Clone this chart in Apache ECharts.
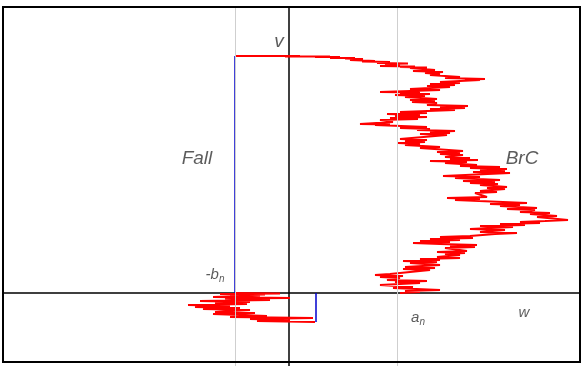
<!DOCTYPE html>
<html>
<head>
<meta charset="utf-8">
<script src="https://cdn.jsdelivr.net/npm/echarts@6/dist/echarts.min.js"></script>
<style>
  html, body { margin: 0; padding: 0; background: #fff; }
  #chart { width: 584px; height: 366px; }
</style>
</head>
<body>
<div id="chart"></div>
<script>
// Brownian path, time runs downwards: [w, t]
var brcPath = [
    [-54, 237], [11, 237], [-4, 236.5], [41, 236.5], [26, 236], [51, 236], [41, 235], [66, 235],
    [56, 234.5], [74, 234], [61, 233], [86, 232], [73, 231.5], [101, 231], [88, 230], [119, 229.5],
    [96, 229], [111, 228], [91, 227], [126, 226.5], [111, 226], [138, 225.5], [121, 225], [146, 223],
    [124, 222], [154, 221], [136, 220], [151, 219], [141, 218], [171, 216], [156, 215], [196, 214],
    [176, 213.5], [191, 213], [151, 211], [171, 210], [141, 209], [166, 208], [138, 207], [161, 206],
    [121, 204], [151, 203], [91, 201], [131, 200.5], [111, 199.5], [141, 199], [106, 198], [136, 197],
    [116, 196], [148, 194], [121, 193], [146, 192], [123, 191], [148, 190], [138, 188], [179, 187],
    [151, 186], [176, 185], [141, 184], [166, 183], [111, 181], [138, 180], [98, 179], [131, 178],
    [106, 177], [138, 176], [101, 175], [129, 174], [91, 173], [104, 171], [71, 169], [101, 168.5],
    [86, 168], [138, 166], [111, 165], [141, 164], [128, 163], [166, 162], [141, 161], [161, 160],
    [131, 159], [158, 158], [111, 154], [138, 153], [116, 152], [136, 151], [109, 150], [131, 149],
    [116, 148], [151, 146], [131, 145], [174, 142], [148, 141], [171, 140], [151, 139], [174, 138],
    [156, 136], [181, 135], [161, 134], [189, 133], [141, 132], [178, 131], [156, 130], [188, 128],
    [171, 127], [211, 126], [181, 125], [218, 124], [191, 123], [216, 122], [184, 121], [221, 120],
    [154, 117], [191, 116], [166, 115], [211, 113], [174, 112], [206, 111], [181, 110], [209, 109],
    [191, 108], [218, 106], [198, 105], [216, 104], [191, 102], [208, 101], [186, 100], [198, 96],
    [158, 95], [191, 94], [166, 93], [238, 90], [201, 89], [231, 88], [211, 87], [248, 85],
    [218, 84], [246, 83], [231, 81], [261, 80], [241, 79], [268, 77], [248, 76], [279, 73],
    [256, 72], [231, 71], [251, 70], [211, 69], [236, 68], [191, 67], [224, 66], [181, 64],
    [216, 63], [191, 61], [228, 60], [206, 59], [181, 57], [151, 56], [184, 55], [141, 54],
    [171, 53], [131, 52], [161, 51], [124, 50], [151, 49], [188, 48], [161, 47], [186, 46],
    [156, 45], [178, 42], [148, 41], [176, 40], [156, 39], [171, 38], [148, 36], [171, 35],
    [131, 34], [151, 33], [114, 32], [148, 31], [121, 30], [151, 28], [116, 26], [146, 25],
    [114, 24], [141, 23], [121, 21], [101, 19], [86, 18], [114, 17], [91, 16], [111, 15],
    [98, 13], [138, 12], [106, 11], [131, 10], [91, 8], [124, 6], [104, 5], [151, 3],
    [116, 2], [131, 1], [111, 0]
];

// after the fall: path below the w axis
var fallPath = [
    [-54, 0], [-9, -0.5], [-69, -1], [-24, -1.5], [-59, -2], [-29, -2.5], [-76, -4], [1, -5],
    [-64, -5.5], [-19, -7], [-89, -8], [-39, -9], [-74, -10], [-42, -11], [-101, -12], [-59, -13],
    [-94, -14], [-49, -15], [-86, -16], [-39, -17], [-74, -19], [-34, -20], [-76, -21], [-22, -23],
    [-59, -24], [24, -25], [-39, -26], [1, -27], [-32, -28], [26, -29]
];

var fallLine = [[-54, 237], [-54, 0]];
var jumpLine = [[27, 0], [27, -29]];

var bn = -54;
var an = 108;
var vLevel = 237;

var labels = [
    { name: '{i|v}', value: [-10, 251] },
    { name: '{i|Fall}', value: [-92, 134] },
    { name: '{i|BrC}', value: [233, 134] },
    { name: '{s|-b}{sub|n}', value: [-74, 18] },
    { name: '{s|a}{sub|n}', value: [129, -25] },
    { name: '{s|w}', value: [235, -20] }
];

var chart = echarts.init(document.getElementById('chart'));

var txt = { fontFamily: 'Liberation Sans, Arial, sans-serif', fontStyle: 'italic', color: '#333' };

chart.setOption({
    animation: false,
    grid: { left: 3, right: 4, top: 7, bottom: 0, show: false },
    xAxis: {
        type: 'value', min: -286, max: 291,
        axisLine: { show: true, onZero: true, lineStyle: { color: '#000', width: 1.5 } },
        axisTick: { show: false }, axisLabel: { show: false }, splitLine: { show: false }
    },
    yAxis: {
        type: 'value', min: -73, max: 286,
        axisLine: { show: true, onZero: true, lineStyle: { color: '#000', width: 1.5 } },
        axisTick: { show: false }, axisLabel: { show: false }, splitLine: { show: false }
    },
    graphic: [{
        type: 'rect', shape: { x: 3, y: 7, width: 577, height: 355 },
        style: { fill: null, stroke: '#000', lineWidth: 2 }, z: 10
    }],
    series: [
        {
            type: 'line', data: [], silent: true,
            markLine: {
                symbol: 'none', silent: true, label: { show: false },
                lineStyle: { color: '#cfcfcf', width: 1, type: 'solid' },
                data: [{ xAxis: bn }, { xAxis: an }]
            }
        },
        {
            type: 'line', data: brcPath, showSymbol: false, z: 3,
            lineStyle: { color: '#ff0000', width: 2 }
        },
        {
            type: 'line', data: fallPath, showSymbol: false, z: 3,
            lineStyle: { color: '#ff0000', width: 2 }
        },
        {
            type: 'line', data: fallLine, showSymbol: false, z: 4,
            lineStyle: { color: '#0000cc', width: 1.5 }
        },
        {
            type: 'line', data: jumpLine, showSymbol: false, z: 4,
            lineStyle: { color: '#0000cc', width: 1.5 }
        },
        {
            type: 'scatter', data: labels, symbolSize: 0, z: 5,
            label: {
                show: true, position: 'inside',
                formatter: function (p) { return p.name; },
                rich: {
                    i: Object.assign({ fontSize: 19 }, txt),
                    s: Object.assign({ fontSize: 15 }, txt),
                    sub: Object.assign({ fontSize: 10, padding: [8, 0, 0, 0] }, txt)
                }
            }
        }
    ]
});
</script>
</body>
</html>
